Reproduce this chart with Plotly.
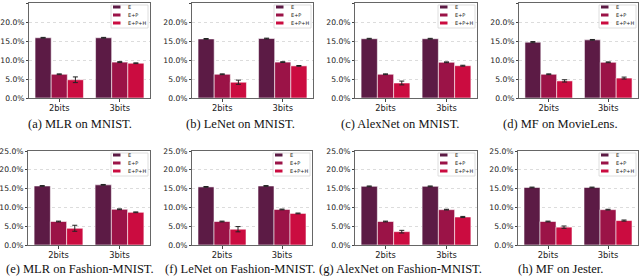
import plotly.graph_objects as go

W, H = 640, 277

categories = ["2bits", "3bits"]
series_names = ["E", "E+P", "E+P+H"]
colors = ["#5c1b45", "#9b1347", "#cb0c40"]

captions = [
    "(a) MLR on MNIST.", "(b) LeNet on MNIST.", "(c) AlexNet on MNIST.", "(d) MF on MovieLens.",
    "(e) MLR on Fashion-MNIST.", "(f) LeNet on Fashion-MNIST.", "(g) AlexNet on Fashion-MNIST.", "(h) MF on Jester.",
]

# values (%) per panel: [2bits, 3bits]
E_vals = [
    [15.85, 15.85], [15.55, 15.65], [15.6, 15.6], [14.7, 15.3],
    [15.7, 16.0], [15.45, 15.7], [15.6, 15.6], [15.3, 15.3],
]
EP_vals = [
    [6.25, 9.45], [6.25, 9.45], [6.25, 9.4], [6.25, 9.4],
    [6.25, 9.5], [6.25, 9.45], [6.25, 9.4], [6.25, 9.4],
]
EPH_vals = [
    [4.8, 9.15], [4.15, 8.45], [3.95, 8.5], [4.5, 5.25],
    [4.45, 8.7], [4.2, 8.4], [3.55, 7.45], [4.75, 6.5],
]
E_err = [
    [0.1, 0.1], [0.1, 0.1], [0.1, 0.1], [0.15, 0.1],
    [0.1, 0.1], [0.1, 0.1], [0.1, 0.1], [0.1, 0.1],
]
EP_err = [
    [0.1, 0.12], [0.1, 0.1], [0.1, 0.1], [0.1, 0.1],
    [0.1, 0.1], [0.1, 0.1], [0.1, 0.1], [0.1, 0.1],
]
EPH_err = [
    [0.75, 0.1], [0.55, 0.1], [0.5, 0.12], [0.3, 0.25],
    [0.8, 0.1], [0.7, 0.1], [0.35, 0.15], [0.3, 0.15],
]
y_ticks = [0, 5, 10, 15, 20, 25]

# axis pixel boxes (left, right, top, bottom)
boxes = [
    (29, 150, 3, 98), (192, 313, 3, 98), (355, 477, 3, 98), (519, 638, 3, 98),
    (28, 150, 151, 245), (192, 312, 151, 245), (355, 477, 151, 245), (518, 638, 151, 245),
]
caption_y = [124, 124, 124, 124, 269, 269, 269, 269]
col_centers = [80, 240, 400, 560, 80, 240, 400, 560]


def px(x):
    return x / W


def py(y):
    return 1 - y / H


fig = go.Figure()
shapes = []
annotations = []
series_vals = [E_vals, EP_vals, EPH_vals]
series_err = [E_err, EP_err, EPH_err]

for i in range(8):
    ax = "" if i == 0 else str(i + 1)
    for s in range(3):
        fig.add_trace(go.Bar(
            x=categories, y=series_vals[s][i], name=series_names[s],
            xaxis="x" + ax, yaxis="y" + ax,
            marker=dict(color=colors[s], line=dict(color="rgba(255,255,255,0.7)", width=0.8)),
            error_y=dict(type="data", array=series_err[s][i], color="#222", thickness=1, width=2.5),
            showlegend=False, hoverinfo="skip",
        ))
    l, r, t, b = boxes[i]
    fig.layout["xaxis" + ax] = dict(
        domain=[px(l), px(r)], anchor="y" + ax, type="category", range=[-0.5, 1.5],
        showline=True, linecolor="#666", linewidth=1, mirror=True,
        ticks="outside", ticklen=2.5, tickcolor="#444", automargin=False,
        tickfont=dict(family="DejaVu Sans", size=8.3, color="#222"), showgrid=False,
    )
    fig.layout["yaxis" + ax] = dict(
        domain=[py(b), py(t)], anchor="x" + ax, range=[0, 25],
        tickvals=y_ticks, ticktext=[f"{v:.1f}%" for v in y_ticks],
        showline=True, linecolor="#666", linewidth=1, mirror=True,
        ticks="outside", ticklen=2, tickcolor="#444", automargin=False,
        tickfont=dict(family="DejaVu Sans", size=7.6, color="#222"),
        showgrid=True, gridcolor="#dcdcdc", griddash="dot", gridwidth=1,
        zeroline=False,
    )
    # caption
    annotations.append(dict(
        x=px(col_centers[i]), y=py(caption_y[i]), xref="paper", yref="paper",
        text=captions[i], showarrow=False, xanchor="center", yanchor="middle",
        font=dict(family="Liberation Serif", size=12.5, color="#111"),
    ))
    # legend box
    shapes.append(dict(
        type="rect", xref="paper", yref="paper",
        x0=px(r - 39), x1=px(r - 2), y0=py(t + 25), y1=py(t + 2),
        line=dict(color="#d5d5d5", width=0.8), fillcolor="rgba(255,255,255,0.85)",
    ))
    for s in range(3):
        cy = t + 4 + 8 * s
        shapes.append(dict(
            type="rect", xref="paper", yref="paper",
            x0=px(r - 37), x1=px(r - 29.5), y0=py(cy + 1.5), y1=py(cy - 1.5),
            line=dict(width=0), fillcolor=colors[s],
        ))
        annotations.append(dict(
            x=px(r - 24), y=py(cy), xref="paper", yref="paper",
            text=series_names[s], showarrow=False, xanchor="left", yanchor="middle",
            font=dict(family="DejaVu Sans", size=5, color="#222"),
        ))

fig.update_layout(
    width=W, height=H, margin=dict(l=0, r=0, t=0, b=0),
    barmode="group", bargap=0.2, bargroupgap=0,
    plot_bgcolor="white", paper_bgcolor="white",
    shapes=shapes, annotations=annotations,
)

fig.write_html(
    "out.html",
    config={"displayModeBar": False, "staticPlot": True},
    post_script="document.body.style.margin='0';document.body.style.overflow='hidden';",
)
